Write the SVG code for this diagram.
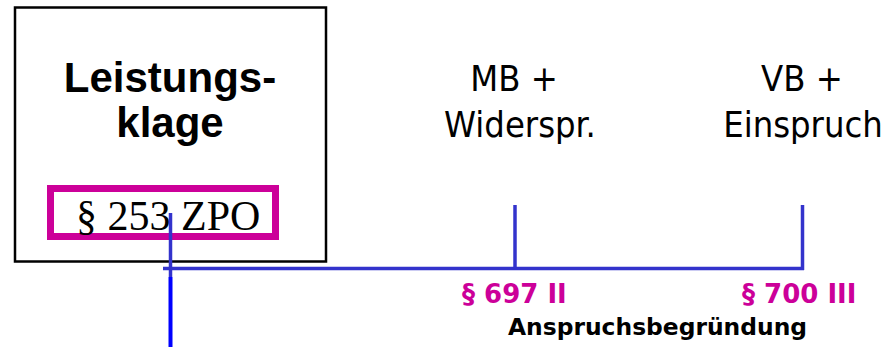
<svg xmlns="http://www.w3.org/2000/svg" width="887" height="347" viewBox="0 0 887 347">
  <style>
    .title { font-family: "Liberation Sans", Arial, sans-serif; font-weight: bold; font-size: 42px; fill: #000; text-anchor: middle; }
    .law { font-family: "Liberation Serif", "Times New Roman", serif; font-size: 42px; fill: #000; }
    .stage { font-family: "DejaVu Sans Condensed", "DejaVu Sans", sans-serif; font-stretch: condensed; font-size: 36px; fill: #000; text-anchor: middle; }
    .ref { font-family: "DejaVu Sans", sans-serif; font-weight: bold; font-size: 26px; fill: #cc0099; }
    .note { font-family: "DejaVu Sans", sans-serif; font-weight: bold; font-size: 23.4px; fill: #000; }
    .line { stroke: #3333cc; stroke-width: 3.5; fill: none; }
  </style>

  <!-- Leistungsklage box -->
  <g id="leistungsklage">
    <rect x="15" y="7.5" width="311" height="254" fill="#fff" stroke="#000" stroke-width="2.5"/>
    <text class="title" x="170" y="92">Leistungs-</text>
    <text class="title" x="170" y="137">klage</text>
    <rect x="50.5" y="188.5" width="225" height="48" fill="none" stroke="#cc0099" stroke-width="7"/>
    <text class="law" x="76" y="230">§ 253 ZPO</text>
  </g>

  <!-- Mahnbescheid + Widerspruch -->
  <g id="mb-widerspruch">
    <text class="stage" x="514" y="91">MB +</text>
    <text class="stage" x="520" y="137">Widerspr.</text>
  </g>

  <!-- Vollstreckungsbescheid + Einspruch -->
  <g id="vb-einspruch">
    <text class="stage" x="802" y="91">VB +</text>
    <text class="stage" x="803" y="137">Einspruch</text>
  </g>

  <!-- section references -->
  <g id="refs">
    <text class="ref" x="462" y="303">§ 697 II</text>
    <text class="ref" x="742" y="303">§ 700 III</text>
    <text class="note" x="508" y="335">Anspruchsbegründung</text>
  </g>

  <!-- connectors -->
  <g id="connectors">
    <line class="line" x1="170.5" y1="213" x2="170.5" y2="277"/>
    <line x1="170.5" y1="277" x2="170.5" y2="347" stroke="#0000ff" stroke-width="4"/>
    <line class="line" x1="163" y1="268.5" x2="804" y2="268.5"/>
    <line class="line" x1="515" y1="205" x2="515" y2="268.5"/>
    <line class="line" x1="802.5" y1="205" x2="802.5" y2="270"/>
  </g>
</svg>
